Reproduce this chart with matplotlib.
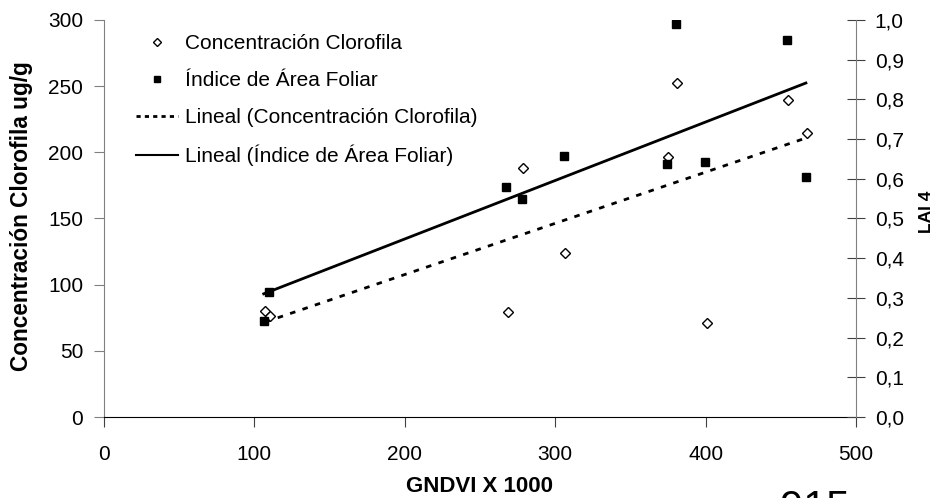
import matplotlib
matplotlib.use('Agg')
import matplotlib.pyplot as plt
from matplotlib.lines import Line2D
import numpy as np

plt.rcParams['font.family'] = ['Liberation Sans', 'DejaVu Sans']

# GNDVI x 1000 vs clorofila (left axis)
gndvi_clor = [107.3, 110.1, 268.5, 278.3, 306.8, 375.1, 381.3, 400.6, 454.8, 467.6]
clorofila = [80.2, 76.4, 79.6, 188.1, 123.8, 196.1, 252.4, 71.1, 239.6, 214.3]

# GNDVI x 1000 vs LAI (right axis)
gndvi_lai = [106.2, 109.5, 267.2, 277.6, 306.1, 374.5, 380.4, 399.9, 454.1, 466.7]
lai = [0.243, 0.314, 0.580, 0.548, 0.658, 0.637, 0.990, 0.643, 0.950, 0.604]

left_ticks = [0, 50, 100, 150, 200, 250, 300]
right_ticks = [0.0, 0.1, 0.2, 0.3, 0.4, 0.5, 0.6, 0.7, 0.8, 0.9, 1.0]
x_ticks = [0, 100, 200, 300, 400, 500]

fs = 15
f = plt.figure(figsize=(9.36, 4.98), dpi=100)
ax = f.add_axes([104/936, 1-417/498, (856-104)/936, (417-20)/498])
ax2 = ax.twinx()

# clorofila points + linear trend
ax.plot(gndvi_clor, clorofila, linestyle='none', marker='D', markersize=5,
        markerfacecolor='white', markeredgecolor='black', markeredgewidth=1, zorder=3)
p1 = np.polyfit(gndvi_clor, clorofila, 1)
xs1 = np.array([min(gndvi_clor), max(gndvi_clor)])
ax.plot(xs1, np.polyval(p1, xs1), color='black', linewidth=2, dashes=(2, 2.7))

# LAI points + linear trend
ax2.plot(gndvi_lai, lai, linestyle='none', marker='s', markersize=6,
         markerfacecolor='black', markeredgecolor='black', zorder=3)
p2 = np.polyfit(gndvi_lai, lai, 1)
xs2 = np.array([min(gndvi_lai), max(gndvi_lai)])
ax2.plot(xs2, np.polyval(p2, xs2), color='black', linewidth=2)

ax.set_xlim(0, 500)
ax.set_ylim(0, 300)
ax2.set_ylim(0, 1.0)
ax.set_xticks(x_ticks)
ax.set_yticks(left_ticks)
ax2.set_yticks(right_ticks)
ax2.set_yticklabels([('%.1f' % v).replace('.', ',') for v in right_ticks])

for a in (ax, ax2):
    a.spines['top'].set_visible(False)
ax.spines['left'].set_color('#808080')
ax2.spines['left'].set_visible(False)
ax2.spines['right'].set_color('#808080')
ax.spines['right'].set_visible(False)
ax2.spines['bottom'].set_visible(False)
ax.spines['bottom'].set_color('black')

ax.tick_params(axis='y', direction='out', length=7, color='#808080', labelsize=fs, pad=8)
ax.tick_params(axis='x', direction='out', length=7, color='#404040', labelsize=fs, pad=13)
ax2.tick_params(axis='y', direction='inout', length=13, color='#404040', labelsize=fs, pad=7)

ax.set_xlabel('GNDVI X 1000', fontsize=16, fontweight='bold')
ax.xaxis.label.set_va('baseline')
ax.xaxis.set_label_coords(0.4987, -0.1885)
ax.set_ylabel('Concentración Clorofila ug/g', fontsize=16.3, fontweight='bold')
ax.yaxis.set_label_coords(-0.0944, 0.506)
ax2.set_ylabel('LAI 4', fontsize=12.5, fontweight='bold')
ax2.yaxis.set_label_coords(1.0837, 0.5176)

handles = [
    Line2D([], [], linestyle='none', marker='D', markersize=4.5, markerfacecolor='white',
           markeredgecolor='black'),
    Line2D([], [], linestyle='none', marker='s', markersize=5, markerfacecolor='black',
           markeredgecolor='black'),
    Line2D([], [], color='black', linewidth=2, dashes=(1.5, 1.5)),
    Line2D([], [], color='black', linewidth=1.5),
]
labels = ['Concentración Clorofila', 'Índice de Área Foliar',
          'Lineal (Concentración Clorofila)', 'Lineal (Índice de Área Foliar)']
ax2.legend(handles, labels, loc='upper left', bbox_to_anchor=(0.043, 0.9647),
           frameon=False, fontsize=fs, handlelength=2.0, handletextpad=0.34,
           labelspacing=0.86, borderpad=0, borderaxespad=0)

# clipped caption at the bottom edge
f.text(780/936, -0.044, '915', fontsize=30, ha='left', va='baseline')

f.savefig('out.png', dpi=100)
